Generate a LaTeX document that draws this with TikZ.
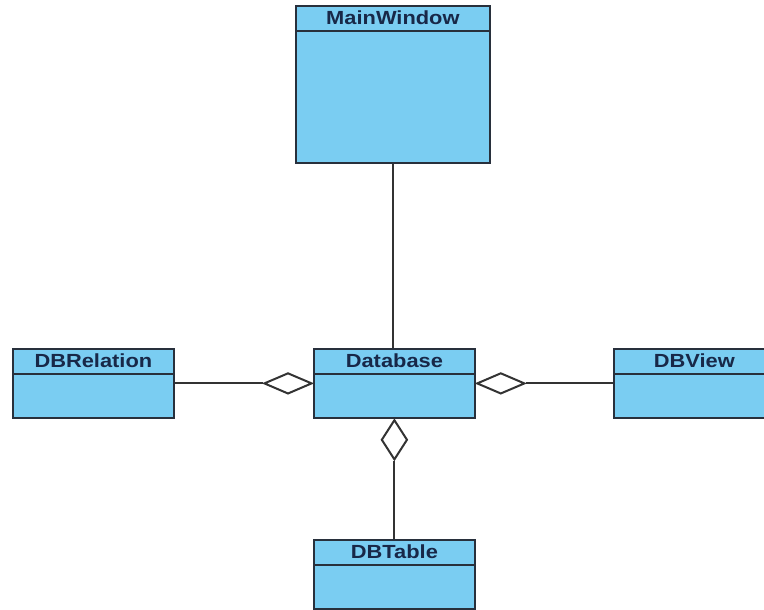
\documentclass[tikz,border=0pt]{standalone}
\usepackage{fontspec}
\setmainfont{Liberation Sans}
\newfontfamily\titlefont[FakeStretch=1.15]{Liberation Sans}
\usepackage{xcolor}
\definecolor{classfill}{RGB}{122,205,242}
\definecolor{classedge}{RGB}{40,48,60}
\definecolor{classtext}{RGB}{24,40,72}
\usetikzlibrary{calc,positioning,shapes.geometric}
\tikzset{
    classbox/.style={
    rectangle,draw=classedge,fill=classfill,line width=1.8pt,anchor=north west,
    minimum width=161pt,minimum height=69pt,inner sep=0pt
    },
    classtitle/.style={
    text=classtext,font=\titlefont\fontsize{19}{19}\selectfont\bfseries,inner sep=0pt
    },
    aggrh/.style={
    diamond,draw=black!80,fill=white,line width=2pt,inner sep=0pt,
    minimum width=48pt,minimum height=21pt
    },
    aggrv/.style={
    diamond,draw=black!80,fill=white,line width=2pt,inner sep=0pt,
    minimum width=26pt,minimum height=40pt
    },
  assoc/.style={draw=black!80, line width=2pt}
}
\begin{document}
\begin{tikzpicture}[x=1pt,y=-1pt]
    \useasboundingbox (0,0) rectangle (764,610);

    \node[classbox,minimum width=194pt,minimum height=157pt] (mainwin) at (295,5) {};
    \node[classbox] (db) at (313,348) {};
    \node[classbox] (rel) at (12,348) {};
    \node[classbox] (view) at (613,348) {};
    \node[classbox] (tbl) at (313,539) {};

    % header compartments
    \foreach \c/\t in {mainwin/MainWindow,db/Database,rel/DBRelation,view/DBView,tbl/DBTable} {
      \draw[classedge,line width=1.8pt] ($(\c.north west)+(0,26)$) -- ($(\c.north east)+(0,26)$);
      \node[classtitle] (\c-name) at ($(\c.north)+(0,13)$) {\t};
    }

    % aggregation ends on the database
    \node[aggrh,anchor=east] (relagg) at (db.west) {};
    \node[aggrh,anchor=west] (viewagg) at (db.east) {};
    \node[aggrv,anchor=north] (tblagg) at (db.south) {};

    \path[assoc] (mainwin.south) -- (mainwin.south |- db.north);
    \path[assoc] (rel.east) -- (relagg.west);
    \path[assoc] (view.west) -- (viewagg.east);
    \path[assoc] (tbl.north) -- (tblagg.south);
  \end{tikzpicture}
\end{document}
